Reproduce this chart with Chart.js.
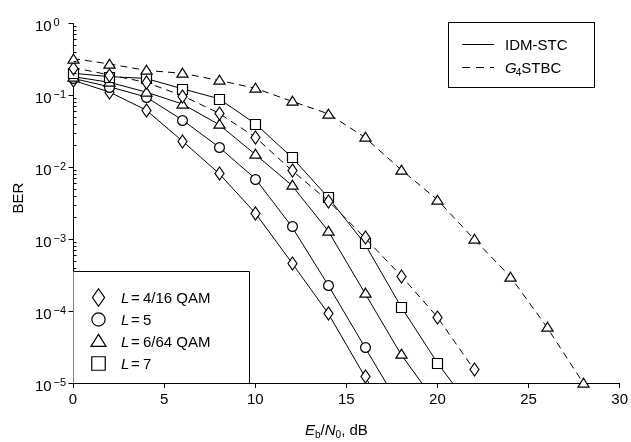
<!DOCTYPE html>
<html>
<head>
<meta charset="utf-8">
<script src="https://cdn.jsdelivr.net/npm/chart.js@4.4.1/dist/chart.umd.min.js"></script>
<style>
  body { margin: 0; background: #fff; }
</style>
</head>
<body>
<canvas id="chart" width="631" height="442"></canvas>
<script>
// Eb/N0 in dB
const snr = [0, 2, 4, 6, 8, 10, 12, 14, 16, 18, 20, 22, 24, 26, 28];

// IDM-STC (solid lines)
const idmL4 = [0.16, 0.11, 0.062, 0.023, 0.0082, 0.0023, 4.7e-4, 9.3e-5, 1.25e-5, 2e-6];
const idmL5 = [0.17, 0.13, 0.094, 0.045, 0.019, 0.0069, 0.0015, 2.3e-4, 3.2e-5, 4.5e-6];
const idmL6 = [0.18, 0.15, 0.11, 0.075, 0.039, 0.015, 0.0056, 0.0013, 1.8e-4, 2.5e-5, 5e-6];
const idmL7 = [0.2, 0.18, 0.17, 0.122, 0.089, 0.04, 0.0137, 0.0038, 8.7e-4, 1.15e-4, 1.9e-5, 4e-6];

// G4 STBC (dashed lines)
const stbc16 = [0.24, 0.19, 0.15, 0.098, 0.056, 0.026, 0.009, 0.0034, 0.00105, 3.1e-4, 8.2e-5, 1.55e-5];
const stbc64 = [0.32, 0.27, 0.22, 0.2, 0.16, 0.124, 0.082, 0.055, 0.026, 0.0092, 0.0035, 0.001, 3.0e-4, 6.0e-5, 1.0e-5];

const yDecades = [0, -1, -2, -3, -4, -5];
const legendLabels = ['4/16 QAM', '5', '6/64 QAM', '7'];

const FONT = '"Liberation Sans", Arial, Helvetica, sans-serif';

function pts(vals) {
  return vals.map((v, i) => ({ x: snr[i], y: v }));
}

// hollow marker, white fill and black outline
function drawMarker(ctx, shape, x, y, s) {
  s = s || 1;
  ctx.beginPath();
  if (shape === 'diamond') {
    ctx.moveTo(x, y - 6.5 * s); ctx.lineTo(x + 4.5 * s, y);
    ctx.lineTo(x, y + 6.5 * s); ctx.lineTo(x - 4.5 * s, y);
  } else if (shape === 'circle') {
    ctx.arc(x, y, 4.9 * s, 0, Math.PI * 2);
  } else if (shape === 'square') {
    ctx.rect(x - 5 * s, y - 5 * s, 10 * s, 10 * s);
  } else {
    ctx.moveTo(x, y - 5.3 * s); ctx.lineTo(x + 5.6 * s, y + 3.6 * s); ctx.lineTo(x - 5.6 * s, y + 3.6 * s);
  }
  ctx.closePath();
  ctx.fillStyle = '#fff';
  ctx.fill();
  ctx.strokeStyle = '#000';
  ctx.lineWidth = 1.2;
  ctx.stroke();
}

function series(vals, shape, dashed) {
  return {
    data: pts(vals),
    shape: shape,
    borderColor: '#000',
    borderWidth: 1,
    borderDash: dashed ? [7, 5] : [],
    pointRadius: 0,
    tension: 0,
    clip: { left: 10, right: 10, top: 10, bottom: 0 }
  };
}

// markers are drawn right after each dataset's line, at the library's point positions
const markerPlugin = {
  id: 'markers',
  afterDatasetDraw(chart, args) {
    const ctx = chart.ctx;
    const bottom = chart.chartArea.bottom;
    const shape = chart.data.datasets[args.index].shape;
    ctx.save();
    args.meta.data.forEach(p => {
      if (p.y > bottom + 2) return;
      drawMarker(ctx, shape, Math.round(p.x) + 0.5, Math.round(p.y) + 0.5);
    });
    ctx.restore();
  }
};

const axesPlugin = {
  id: 'axesText',
  afterDraw(chart) {
    const ctx = chart.ctx;
    const ys = chart.scales.y;
    const area = chart.chartArea;
    const left = Math.round(area.left) + 0.5;
    ctx.save();
    ctx.strokeStyle = '#000';
    ctx.fillStyle = '#000';
    ctx.lineWidth = 1;

    // y ticks: major outside, minor inside
    ctx.beginPath();
    yDecades.forEach(k => {
      const y = Math.round(ys.getPixelForValue(Math.pow(10, k))) + 0.5;
      ctx.moveTo(left - 5, y); ctx.lineTo(left, y);
      if (k > -5) {
        for (let m = 2; m <= 9; m++) {
          const ym = Math.round(ys.getPixelForValue(m * Math.pow(10, k - 1))) + 0.5;
          ctx.moveTo(left, ym); ctx.lineTo(left + 3, ym);
        }
      }
    });
    ctx.stroke();

    // y labels 10^k
    ctx.textBaseline = 'alphabetic';
    ctx.textAlign = 'left';
    yDecades.forEach(k => {
      const y = ys.getPixelForValue(Math.pow(10, k));
      ctx.font = '15px ' + FONT;
      ctx.fillText('10', 35, y + 8);
      ctx.font = '11px ' + FONT;
      ctx.fillText(k === 0 ? '0' : '\u2212' + (-k), 53.5, y + 3);
    });

    // y title
    ctx.save();
    ctx.translate(23, 198);
    ctx.rotate(-Math.PI / 2);
    ctx.font = '15px ' + FONT;
    ctx.textAlign = 'center';
    ctx.fillText('BER', 0, 0);
    ctx.restore();

    // x title: Eb/N0, dB
    let x = 305;
    const base = 435;
    const part = (t, f, dy) => {
      ctx.font = f;
      ctx.fillText(t, x, base + (dy || 0));
      x += ctx.measureText(t).width;
    };
    part('E', 'italic 15px ' + FONT);
    part('b', '10px ' + FONT, 3);
    part('/', '15px ' + FONT);
    part('N', 'italic 15px ' + FONT);
    part('0', '10px ' + FONT, 3);
    part(', dB', '15px ' + FONT);

    // legend: line styles (top right)
    ctx.fillStyle = '#fff';
    ctx.fillRect(448, 22, 146, 65);
    ctx.strokeRect(448.5, 22.5, 146, 65);
    ctx.beginPath();
    ctx.moveTo(462, 44.5); ctx.lineTo(494, 44.5);
    ctx.stroke();
    ctx.setLineDash([8, 6]);
    ctx.beginPath();
    ctx.moveTo(462, 67.5); ctx.lineTo(494, 67.5);
    ctx.stroke();
    ctx.setLineDash([]);
    ctx.fillStyle = '#000';
    ctx.font = '15px ' + FONT;
    ctx.fillText('IDM-STC', 505, 50);
    x = 505;
    const base2 = 73;
    ctx.font = 'italic 15px ' + FONT;
    ctx.fillText('G', x, base2); x += ctx.measureText('G').width;
    ctx.font = '10px ' + FONT;
    ctx.fillText('4', x - 1, base2 + 3); x += ctx.measureText('4').width - 1;
    ctx.font = '15px ' + FONT;
    ctx.fillText('STBC', x, base2);

    // legend: markers (bottom left)
    ctx.fillStyle = '#fff';
    ctx.fillRect(left, 271, 249 - left, Math.round(area.bottom) - 271);
    ctx.beginPath();
    ctx.moveTo(left, 271.5); ctx.lineTo(249.5, 271.5); ctx.lineTo(249.5, Math.round(area.bottom));
    ctx.stroke();
    const shapes = ['diamond', 'circle', 'triangle', 'square'];
    shapes.forEach((s, i) => {
      const cy = 297 + i * 22;
      drawMarker(ctx, s, 98.5, cy + 0.5, 1.35);
      ctx.fillStyle = '#000';
      ctx.font = 'italic 15px ' + FONT;
      ctx.fillText('L', 121, cy + 5.5);
      ctx.font = '15px ' + FONT;
      ctx.fillText('=', 131, cy + 5.5);
      ctx.fillText(legendLabels[i], 143, cy + 5.5);
    });

    ctx.restore();
  }
};

new Chart(document.getElementById('chart'), {
  type: 'line',
  data: {
    datasets: [
      series(stbc64, 'triangle', true),
      series(stbc16, 'diamond', true),
      series(idmL7, 'square', false),
      series(idmL6, 'triangle', false),
      series(idmL5, 'circle', false),
      series(idmL4, 'diamond', false)
    ]
  },
  options: {
    responsive: false,
    animation: false,
    events: [],
    layout: { padding: { top: 23, right: 10, left: 0, bottom: 0 } },
    plugins: { legend: { display: false }, tooltip: { enabled: false } },
    scales: {
      x: {
        type: 'linear',
        min: 0,
        max: 30,
        afterFit: (s) => { s.height = 59; },
        ticks: { stepSize: 5, color: '#000', padding: 3, font: { family: FONT, size: 15 } },
        grid: { display: true, drawOnChartArea: false, drawTicks: true, tickLength: 5, color: '#000' },
        border: { display: true, color: '#000', width: 1 }
      },
      y: {
        type: 'logarithmic',
        min: 1e-5,
        max: 1,
        afterFit: (s) => { s.width = 73; },
        ticks: { display: false },
        grid: { display: false },
        border: { display: true, color: '#000', width: 1 }
      }
    }
  },
  plugins: [markerPlugin, axesPlugin]
});
</script>
</body>
</html>
